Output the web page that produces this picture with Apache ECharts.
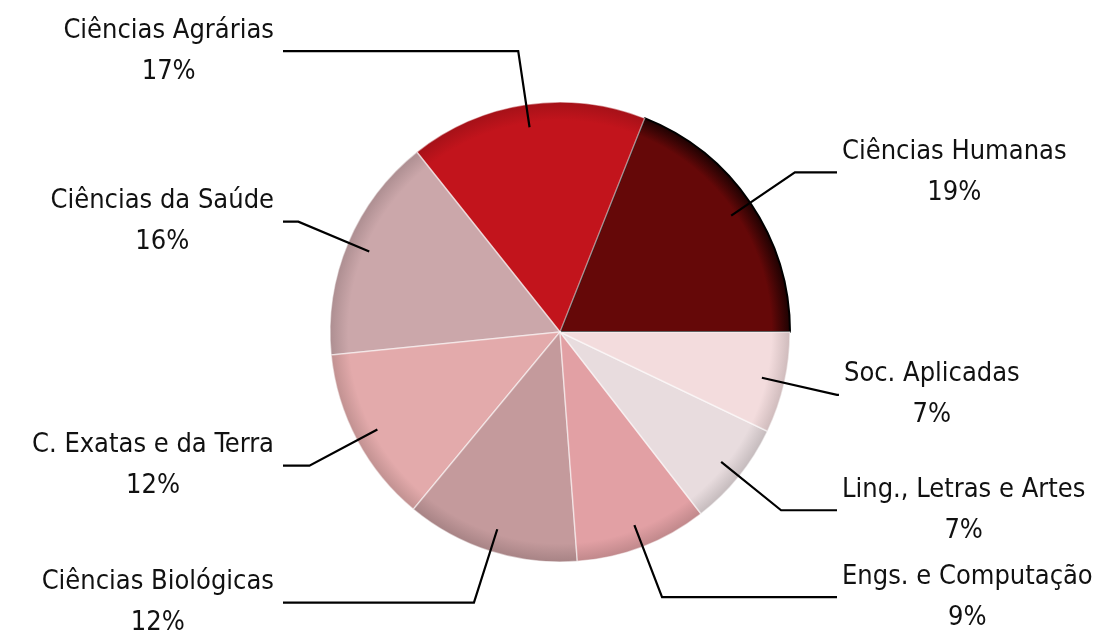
<!DOCTYPE html>
<html>
<head>
<meta charset="utf-8">
<script src="https://cdn.jsdelivr.net/npm/echarts@6/dist/echarts.min.js"></script>
<style>
html,body{margin:0;padding:0;background:#fff;}
#chart{width:1101px;height:636px;}
</style>
</head>
<body>
<div id="chart"></div>
<script>
const categories = ['Ciências Humanas', 'Ciências Agrárias', 'Ciências da Saúde', 'C. Exatas e da Terra',
  'Ciências Biológicas', 'Engs. e Computação', 'Ling., Letras e Artes', 'Soc. Aplicadas'];
const values = [19.0, 16.7, 15.9, 12.4, 12.2, 9.3, 7.4, 7.1];
const colors = ['#650808', '#c2141c', '#cba7aa', '#e3aaab', '#c49a9c', '#e2a0a4', '#e8dcde', '#f3dcdd'];

const CX = 560, CY = 332, R = 230;
const R_LABEL = 207, LEN1 = 77, EDGE = 277;

function darker(hex, f) {
  const n = parseInt(hex.slice(1), 16);
  const r = Math.round(((n >> 16) & 255) * f), g = Math.round(((n >> 8) & 255) * f), b = Math.round((n & 255) * f);
  return 'rgb(' + r + ',' + g + ',' + b + ')';
}

const total = values.reduce((a, b) => a + b, 0);
let cum = 0;
const pieData = [], labelData = [];
values.forEach((v, i) => {
  const mid = (cum + v / 2) / total * 2 * Math.PI;
  cum += v;
  const c = Math.cos(mid);
  const endX = (R_LABEL + LEN1) * c;
  const len2 = Math.max(2, EDGE - Math.abs(endX));
  const right = c >= 0;
  pieData.push({
    name: categories[i], value: v,
    itemStyle: {
      color: {
        type: 'radial', x: CX, y: CY, r: R, global: true,
        colorStops: [
          { offset: 0, color: colors[i] },
          { offset: 0.92, color: colors[i] },
          { offset: 1, color: darker(colors[i], i === 0 ? 0.3 : 0.85) }
        ]
      },
      borderColor: i === 0 ? '#000' : 'rgba(255,255,255,0.5)',
      borderWidth: i === 0 ? 2 : 1.5
    }
  });
  labelData.push({
    name: categories[i], value: v,
    labelLine: { length: LEN1, length2: len2 },
    label: { distanceToLabelLine: right ? 5 : 9 }
  });
});

const chart = echarts.init(document.getElementById('chart'), null, { renderer: 'canvas' });
chart.setOption({
  animation: false,
  backgroundColor: '#ffffff',
  series: [
    {
      type: 'pie', z: 2, center: [CX, CY], radius: R, startAngle: 0, clockwise: false,
      silent: true, label: { show: false }, labelLine: { show: false },
      data: pieData
    },
    {
      type: 'pie', z: 6, center: [CX, CY], radius: R_LABEL, startAngle: 0, clockwise: false,
      silent: true, avoidLabelOverlap: false,
      itemStyle: { color: 'rgba(0,0,0,0)', borderWidth: 0 },
      label: {
        show: true, position: 'outside', alignTo: 'none',
        formatter: p => '{a|' + p.name + '}\n{b|' + Math.round(p.percent) + '%}',
        rich: {
          a: { fontFamily: 'DejaVu Sans Condensed', fontSize: 27, color: '#111', align: 'center', lineHeight: 41 },
          b: { fontFamily: 'DejaVu Sans Condensed', fontSize: 27, color: '#111', align: 'center', lineHeight: 41 }
        }
      },
      labelLine: { show: true, smooth: false, lineStyle: { color: '#000', width: 2.2 } },
      data: labelData
    }
  ]
});
</script>
</body>
</html>
